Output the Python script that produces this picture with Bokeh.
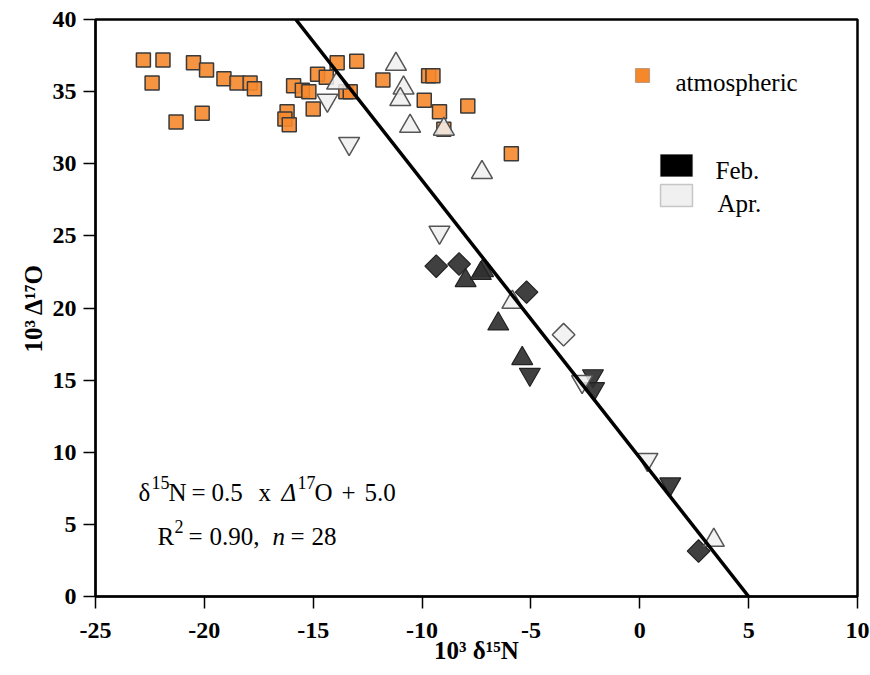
import numpy as np
from bokeh.plotting import figure
from bokeh.models import Range1d, FixedTicker, Label, BoxAnnotation
from bokeh.embed import file_html
from bokeh.resources import INLINE

# ---------------- data ----------------
x_ticks = [-25, -20, -15, -10, -5, 0, 5, 10]
y_ticks = [0, 5, 10, 15, 20, 25, 30, 35, 40]

# atmospheric (orange squares)
atm_x = [-22.8, -21.9, -22.4, -20.5, -19.9, -21.3, -20.1, -19.1, -18.5, -17.9,
         -17.7, -15.9, -15.5, -15.2, -16.2, -16.3, -16.1, -15.0, -14.8, -14.4,
         -13.9, -13.0, -13.5, -13.3, -11.8, -9.7, -9.5, -9.9, -9.2, -9.0,
         -7.9, -5.9]
atm_y = [37.2, 37.2, 35.6, 37.0, 36.5, 32.9, 33.5, 35.9, 35.6, 35.6,
         35.2, 35.4, 35.1, 35.0, 33.6, 33.1, 32.7, 33.8, 36.2, 36.0,
         37.0, 37.1, 35.0, 35.0, 35.8, 36.1, 36.1, 34.4, 33.6, 32.4,
         34.0, 30.7]

# Feb. (dark markers)
feb_dia_x = [-9.35, -8.3, -5.2, 2.7]
feb_dia_y = [22.9, 23.05, 21.1, 3.15]
feb_up_x = [-8.0, -7.2, -7.3, -6.5, -5.4]
feb_up_y = [21.9, 22.6, 22.4, 18.9, 16.5]
feb_dn_x = [-5.05, -2.15, -2.1, 1.4]
feb_dn_y = [15.4, 15.3, 14.4, 7.8]

# Apr. (light markers)
apr_up_x = [-11.2, -13.9, -10.85, -11.0, -10.55, -9.0, -7.25, -5.85, 3.4]
apr_up_y = [36.9, 35.6, 35.25, 34.45, 32.6, 32.4, 29.4, 20.4, 3.9]
apr_dn_x = [-14.35, -13.35, -9.2, -2.65, 0.35]
apr_dn_y = [34.4, 31.4, 25.25, 14.9, 9.5]
apr_dia_x = [-3.5]
apr_dia_y = [18.15]

# regression line:  d15N = fit_slope * D17O + fit_intercept
fit_slope = -0.52
fit_intercept = 5.0
fit_y = [0, 40]
fit_x = [fit_intercept + fit_slope * v for v in fit_y]

x_title = "10³ δ¹⁵N"
y_title = "10³ Δ¹⁷O"

# ---------------- styling ----------------
SERIF = "Liberation Serif"
ORANGE = "#F6882C"
DARK = "#303030"
LIGHT = "#F0F0F0"

p = figure(width=870, height=675, output_backend="svg", toolbar_location=None,
           x_range=Range1d(-25, 10), y_range=Range1d(0, 40),
           min_border_left=95, min_border_right=13, min_border_top=19,
           min_border_bottom=79)
p.grid.visible = False
p.background_fill_color = "white"
p.border_fill_color = "white"
p.outline_line_color = "black"
p.outline_line_width = 2.5

p.xaxis.ticker = FixedTicker(ticks=x_ticks)
p.yaxis.ticker = FixedTicker(ticks=y_ticks)
p.xaxis.major_label_overrides = {t: str(t) for t in x_ticks}
for ax in (p.xaxis, p.yaxis):
    ax.axis_line_color = "black"
    ax.axis_line_width = 2
    ax.major_tick_line_color = "black"
    ax.major_tick_line_width = 1.5
    ax.major_tick_out = 12
    ax.major_tick_in = 0
    ax.minor_tick_line_color = None
    ax.major_label_text_font = SERIF
    ax.major_label_text_font_style = "bold"
    ax.major_label_text_font_size = "24px"
    ax.major_label_text_color = "black"
    ax.axis_label_text_font = SERIF
    ax.axis_label_text_font_style = "bold"
    ax.axis_label_text_font_size = "25px"
    ax.axis_label_text_color = "black"
p.xaxis.major_label_standoff = 14
p.yaxis.major_label_standoff = 7
p.xaxis.axis_label = x_title
p.yaxis.axis_label = y_title
p.xaxis.axis_label_standoff = -4
p.yaxis.axis_label_standoff = 3

# markers
p.scatter(atm_x, atm_y, marker="square", size=14, fill_color=ORANGE,
          fill_alpha=0.9, line_color="#3a3a3a", line_width=1.5)

feb_style = dict(fill_color=DARK, fill_alpha=0.92, line_color="#222222", line_width=1.2)
p.scatter(feb_dia_x, feb_dia_y, marker="square", angle=np.pi / 4, size=16, **feb_style)
p.scatter(feb_up_x, feb_up_y, marker="triangle", size=21, **feb_style)
p.scatter(feb_dn_x, feb_dn_y, marker="inverted_triangle", size=21, **feb_style)

apr_style = dict(fill_color=LIGHT, fill_alpha=0.85, line_color="#555555", line_width=1.5)
p.scatter(apr_up_x, apr_up_y, marker="triangle", size=21, **apr_style)
p.scatter(apr_dn_x, apr_dn_y, marker="inverted_triangle", size=21, **apr_style)
p.scatter(apr_dia_x, apr_dia_y, marker="square", angle=np.pi / 4, size=16, **apr_style)

p.line(fit_x, fit_y, line_color="black", line_width=3.5)


# ---------------- texts (screen units relative to the frame) ----------------
def lab(text, sx, sy, size, style="normal"):
    p.add_layout(Label(x=sx, y=sy, x_units="screen", y_units="screen", text=text,
                       text_font=SERIF, text_font_size=f"{size}px",
                       text_font_style=style, text_color="black",
                       text_baseline="alphabetic", text_align="left"))


# equation, line 1
lab("δ", 43, 104, 25)
lab("15", 56, 114, 18)
lab("N", 73, 104, 25)
lab("=", 96, 104, 25)
lab("0.5", 116, 104, 25)
lab("x", 163, 104, 25)
lab("Δ", 186, 104, 25, "italic")
lab("17", 202, 114, 18)
lab("O", 219, 104, 25)
lab("+", 246, 104, 25)
lab("5.0", 269, 104, 25)
# equation, line 2
lab("R", 62, 60, 25)
lab("2", 79, 70, 18)
lab("=", 93, 60, 25)
lab("0.90,", 114, 60, 25)
lab("n", 177, 60, 25, "italic")
lab("=", 195, 60, 25)
lab("28", 216, 60, 25)

# legend
p.add_layout(BoxAnnotation(left=540, right=554, bottom=514, top=528,
                           left_units="screen", right_units="screen",
                           bottom_units="screen", top_units="screen",
                           fill_color=ORANGE, fill_alpha=1.0,
                           line_color="#3a3a3a", line_width=1.2))
lab("atmospheric", 580, 514, 25)
p.add_layout(BoxAnnotation(left=565, right=597, bottom=420, top=442,
                           left_units="screen", right_units="screen",
                           bottom_units="screen", top_units="screen",
                           fill_color="black", fill_alpha=1.0,
                           line_color="#222222", line_width=1.2))
lab("Feb.", 620, 426, 25)
p.add_layout(BoxAnnotation(left=565, right=597, bottom=390, top=412,
                           left_units="screen", right_units="screen",
                           bottom_units="screen", top_units="screen",
                           fill_color=LIGHT, fill_alpha=1.0,
                           line_color="#555555", line_width=1.5))
lab("Apr.", 622, 393, 25)

open("out.html", "w").write(file_html(p, INLINE))
